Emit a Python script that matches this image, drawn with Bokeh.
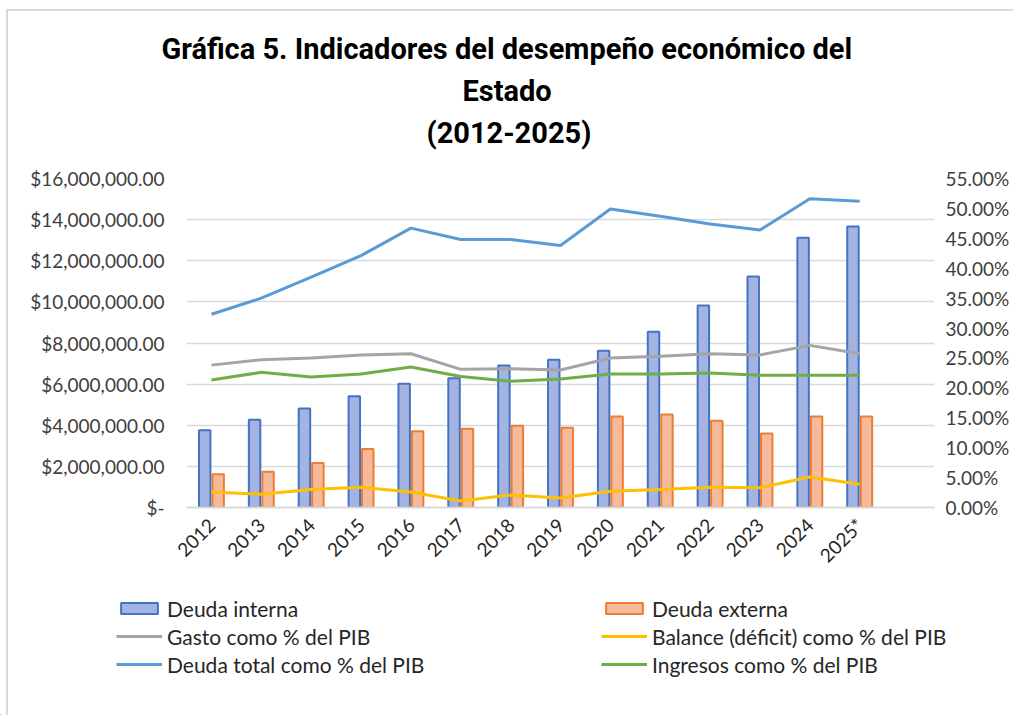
import math
from bokeh.plotting import figure
from bokeh.layouts import column
from bokeh.models import (FactorRange, Range1d, LinearAxis, FixedTicker, Legend,
                          LegendItem, Title, ColumnDataSource)
from bokeh.transform import dodge
from bokeh.embed import file_html
from bokeh.resources import INLINE

# ---------------- data ----------------
years = ["2012", "2013", "2014", "2015", "2016", "2017", "2018",
         "2019", "2020", "2021", "2022", "2023", "2024", "2025*"]
deuda_interna = [3760000, 4270000, 4820000, 5410000, 6020000, 6290000, 6910000,
                 7180000, 7620000, 8550000, 9820000, 11240000, 13120000, 13670000]
deuda_externa = [1620000, 1740000, 2170000, 2840000, 3710000, 3830000, 3970000,
                 3880000, 4430000, 4520000, 4220000, 3600000, 4430000, 4430000]
gasto_pct = [23.8, 24.7, 25.0, 25.5, 25.7, 23.1, 23.2, 23.0, 25.0, 25.3, 25.7, 25.5, 27.1, 25.7]
balance_pct = [2.6, 2.2, 3.0, 3.4, 2.6, 1.1, 2.1, 1.6, 2.7, 3.0, 3.4, 3.3, 5.1, 3.9]
deuda_total_pct = [32.3, 35.0, 38.5, 42.1, 46.7, 44.8, 44.8, 43.8, 49.9, 48.7, 47.4, 46.4, 51.6, 51.2]
ingresos_pct = [21.3, 22.6, 21.8, 22.3, 23.5, 21.9, 21.1, 21.5, 22.3, 22.3, 22.5, 22.1, 22.1, 22.1]

left_ticks = [0, 2000000, 4000000, 6000000, 8000000, 10000000, 12000000, 14000000, 16000000]
left_labels = ["$-", "$2,000,000.00", "$4,000,000.00", "$6,000,000.00", "$8,000,000.00",
               "$10,000,000.00", "$12,000,000.00", "$14,000,000.00", "$16,000,000.00"]
right_ticks = [0, 5, 10, 15, 20, 25, 30, 35, 40, 45, 50, 55]
right_labels = ["0.00%", "5.00%", "10.00%", "15.00%", "20.00%", "25.00%", "30.00%",
                "35.00%", "40.00%", "45.00%", "50.00%", "55.00%"]

title_lines = ["Gráfica 5. Indicadores del desempeño económico del", "Estado", "(2012-2025)"]
legend_col1 = ["Deuda interna", "Gasto como % del PIB", "Deuda total como % del PIB"]
legend_col2 = ["Deuda externa", "Balance (déficit) como % del PIB", "Ingresos como % del PIB"]

# styles
C_INT = ("#a3b4e2", "#4472c4")
C_EXT = ("#f5b99b", "#ed7d31")
C_GASTO, C_BAL, C_TOT, C_ING = "#a5a5a5", "#ffc000", "#5b9bd5", "#70ad47"
FONT = "Lato"
GRID = "#d9d9d9"

# ---------------- main figure ----------------
src = ColumnDataSource(dict(year=years, interna=deuda_interna, externa=deuda_externa,
                            gasto=gasto_pct, balance=balance_pct, total=deuda_total_pct,
                            ingresos=ingresos_pct))

p = figure(x_range=FactorRange(factors=years + [""]), y_range=Range1d(0, 16000000),
           width=1013, height=590, output_backend="svg", toolbar_location=None,
           min_border_left=186, min_border_right=79, min_border_top=178, min_border_bottom=83)
p.frame_align = False
p.styles = {"background": "linear-gradient(#d9d9d9,#d9d9d9) 6px 9px / 2px 100% no-repeat, "
                          "linear-gradient(#d9d9d9,#d9d9d9) 6px 9px / 100% 2px no-repeat, white"}
p.outline_line_color = None
p.background_fill_color = "white"
p.border_fill_color = None
p.extra_y_ranges = {"pct": Range1d(0, 55)}

p.vbar(x=dodge("year", -0.135, range=p.x_range), top="interna", width=0.23, source=src,
       fill_color=C_INT[0], line_color=C_INT[1], line_width=2)
p.vbar(x=dodge("year", 0.135, range=p.x_range), top="externa", width=0.23, source=src,
       fill_color=C_EXT[0], line_color=C_EXT[1], line_width=2)
p.line("year", "gasto", source=src, y_range_name="pct", line_color=C_GASTO, line_width=3)
p.line("year", "balance", source=src, y_range_name="pct", line_color=C_BAL, line_width=3)
p.line("year", "total", source=src, y_range_name="pct", line_color=C_TOT, line_width=3)
p.line("year", "ingresos", source=src, y_range_name="pct", line_color=C_ING, line_width=3)

p.yaxis.ticker = FixedTicker(ticks=left_ticks)
p.yaxis.major_label_overrides = {t: l for t, l in zip(left_ticks, left_labels)}
ra = LinearAxis(y_range_name="pct", ticker=FixedTicker(ticks=right_ticks))
ra.major_label_overrides = {t: l for t, l in zip(right_ticks, right_labels)}
p.add_layout(ra, "right")
for ax, so in ((p.yaxis[0], 22), (ra, 11)):
    ax.axis_line_color = None
    ax.major_tick_line_color = None
    ax.minor_tick_line_color = None
    ax.major_tick_out = 0
    ax.major_tick_in = 0
    ax.major_label_standoff = so
    ax.major_label_text_font = FONT
    ax.major_label_text_font_size = "19px"
    ax.major_label_text_color = "#404040"

p.xaxis.axis_line_color = GRID
p.xaxis.axis_line_width = 2
p.xaxis.major_tick_line_color = None
p.xaxis.minor_tick_line_color = None
p.xaxis.major_tick_out = 0
p.xaxis.major_tick_in = 0
p.xaxis.major_label_orientation = math.pi / 4
p.xaxis.major_label_standoff = 14
p.xaxis.major_label_text_font = FONT
p.xaxis.major_label_text_font_size = "19px"
p.xaxis.major_label_text_color = "#262626"

p.xgrid.grid_line_color = None
p.ygrid.grid_line_color = GRID
p.ygrid.grid_line_width = 1.5

# title (stacked from the frame outward)
p.add_layout(Title(text=" ", text_font_size="12px", standoff=9), "above")
offsets = [-25, 276, 240]
for txt, off in reversed(list(zip(title_lines, offsets))):
    p.add_layout(Title(text=txt, align="left", offset=off, vertical_align="middle",
                       text_font="Roboto", text_font_style="bold", text_font_size="29px",
                       text_line_height=1.0, standoff=6, text_color="#000000"), "above")

# ---------------- legend strip ----------------
q = figure(width=1013, height=125, output_backend="svg", toolbar_location=None,
           x_range=Range1d(0, 1), y_range=Range1d(0, 1), min_border=0,
           min_border_left=0, min_border_right=0, min_border_top=0, min_border_bottom=0)
q.frame_align = False
q.styles = {"background": "linear-gradient(#d9d9d9,#d9d9d9) 6px 0 / 2px 100% no-repeat, white"}
q.axis.visible = False
q.grid.visible = False
q.outline_line_color = None
q.background_fill_color = None
q.border_fill_color = None

# legend keys: renderers kept outside the visible range, only their legend swatches show
key = ColumnDataSource(dict(x=[-5, -4], y=[-5, -5]))
k_int = q.vbar(x="x", top="y", width=0.1, source=key, fill_color=C_INT[0], line_color=C_INT[1], line_width=2)
k_ext = q.vbar(x="x", top="y", width=0.1, source=key, fill_color=C_EXT[0], line_color=C_EXT[1], line_width=2)
k_gasto = q.line("x", "y", source=key, line_color=C_GASTO, line_width=3)
k_bal = q.line("x", "y", source=key, line_color=C_BAL, line_width=3)
k_tot = q.line("x", "y", source=key, line_color=C_TOT, line_width=3)
k_ing = q.line("x", "y", source=key, line_color=C_ING, line_width=3)

def mk_legend(labels, rends, x):
    lg = Legend(items=[LegendItem(label=l, renderers=[r], index=0) for l, r in zip(labels, rends)],
                location=(x, 37), orientation="vertical",
                glyph_width=46, glyph_height=14, label_height=28, spacing=0,
                label_standoff=5, padding=0, margin=0,
                border_line_color=None, background_fill_alpha=0,
                label_text_font=FONT, label_text_font_size="21px", label_text_color="#262626")
    q.add_layout(lg)

mk_legend(legend_col1, [k_int, k_gasto, k_tot], 116)
mk_legend(legend_col2, [k_ext, k_bal, k_ing], 601)

layout = column(p, q, spacing=0)
open("out.html", "w").write(file_html(layout, INLINE))
